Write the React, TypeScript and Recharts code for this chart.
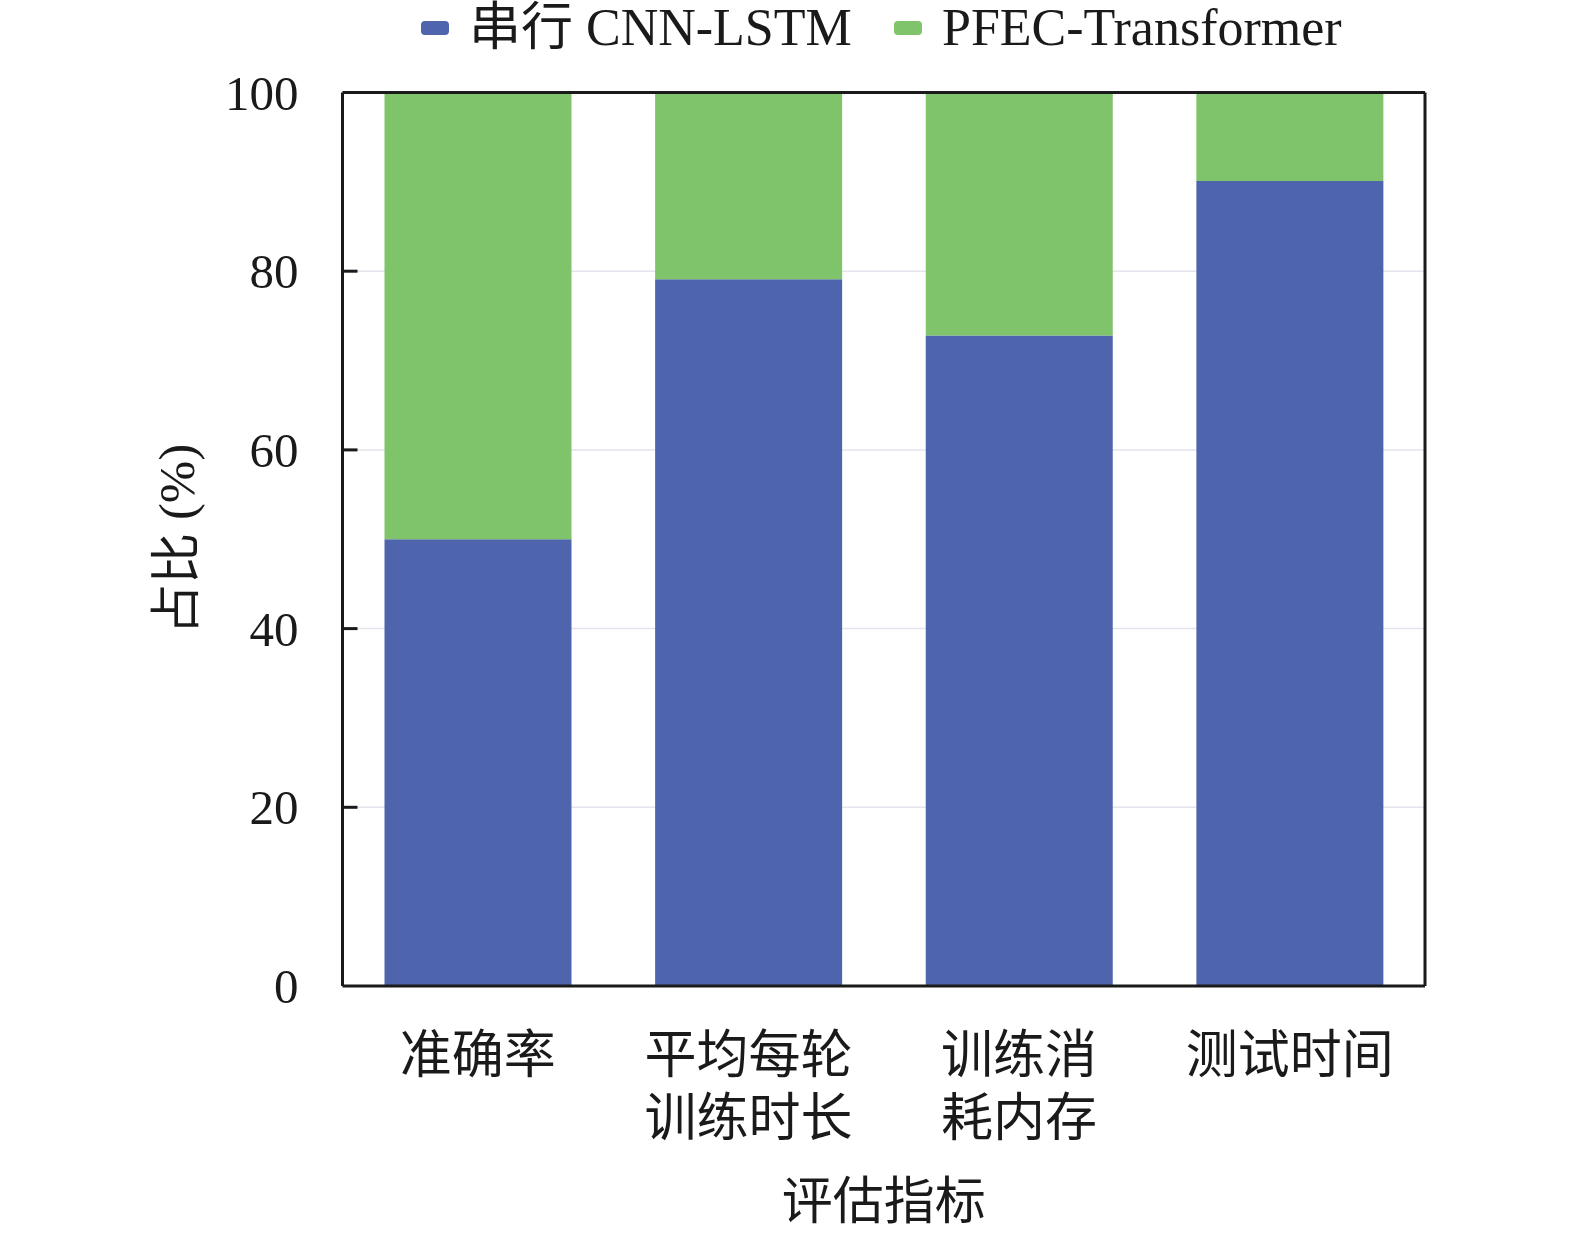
import { BarChart, Bar, XAxis, YAxis, CartesianGrid } from 'recharts';

const categories = ['准确率', '平均每轮\n训练时长', '训练消\n耗内存', '测试时间'];
const cnnLstm = [50.0, 79.1, 72.8, 90.1];
const pfecTransformer = [50.0, 20.9, 27.2, 9.9];
const yTicks = [0, 20, 40, 60, 80, 100];

const seriesNames = ['串行 CNN-LSTM', 'PFEC-Transformer'];
const COLORS = ['#4e65ae', '#7fc36b'];

const data = categories.map((name, i) => ({
  name,
  cnn: cnnLstm[i],
  pfec: pfecTransformer[i],
}));

const FONT = "'Liberation Serif', 'Times New Roman', 'Noto Sans CJK SC', serif";

// ticks drawn pointing into the plot, labels outside
const YTick = ({ x, y, payload }: any) => (
  <g>
    {payload.value > 0 && payload.value < 100 && (
      <line x1={x} y1={y} x2={x + 15} y2={y} stroke="#1a1a1a" strokeWidth={3} />
    )}
    <text x={x - 44} y={y} dy={17} textAnchor="end" fontSize={49} fill="#1a1a1a" fontFamily={FONT}>
      {payload.value}
    </text>
  </g>
);

const XTick = ({ x, y, payload }: any) => {
  const lines = String(payload.value).split('\n');
  return (
    <text x={x} y={y} textAnchor="middle" fontSize={52} fill="#1a1a1a" fontFamily={FONT}>
      {lines.map((ln, i) => (
        <tspan key={i} x={x} dy={i === 0 ? 87 : 63}>{ln}</tspan>
      ))}
    </text>
  );
};

export default function App() {
  return (
    <div style={{ position: 'absolute', left: 0, top: 0, width: 1575, height: 1235, background: '#fff', fontFamily: FONT }}>
      {/* legend */}
      <div style={{ position: 'absolute', top: 0, left: 0, width: 1575, height: 60 }}>
        {seriesNames.map((s, i) => (
          <div key={s} style={{ position: 'absolute', left: i === 0 ? 421 : 894, top: 0, display: 'flex', alignItems: 'center', height: 56 }}>
            <div style={{ width: 28, height: 14, borderRadius: 4, background: COLORS[i], marginRight: 20 }} />
            <span style={{ fontSize: 52, color: '#1a1a1a', whiteSpace: 'nowrap', lineHeight: 1 }}>{s}</span>
          </div>
        ))}
      </div>

      <BarChart
        width={1575}
        height={1235}
        data={data}
        margin={{ top: 91.5, right: 149, bottom: 99, left: 242.5 }}
      >
        <CartesianGrid vertical={false} stroke="#e2e5ec" strokeWidth={1.5} />
        <XAxis
          dataKey="name"
          height={150}
          axisLine={{ stroke: '#1a1a1a', strokeWidth: 3 }}
          tickLine={false}
          tickSize={0}
          tickMargin={0}
          interval={0}
          tick={<XTick />}
          label={{ value: '评估指标', position: 'insideBottom', offset: -83, fontSize: 51, fill: '#1a1a1a', fontFamily: FONT }}
        />
        <XAxis
          xAxisId="top"
          dataKey="name"
          orientation="top"
          height={1}
          tick={false}
          tickLine={false}
          axisLine={{ stroke: '#1a1a1a', strokeWidth: 3 }}
        />
        <YAxis
          width={100}
          domain={[0, 100]}
          ticks={yTicks}
          interval={0}
          axisLine={{ stroke: '#1a1a1a', strokeWidth: 3 }}
          tickLine={false}
          tickSize={0}
          tickMargin={0}
          tick={<YTick />}
          label={{ value: '占比 (%)', angle: -90, position: 'insideLeft', offset: -67, fontSize: 51, fill: '#1a1a1a', fontFamily: FONT, style: { textAnchor: 'middle' } }}
        />
        <YAxis
          yAxisId="right"
          orientation="right"
          width={1}
          domain={[0, 100]}
          tick={false}
          tickLine={false}
          axisLine={{ stroke: '#1a1a1a', strokeWidth: 3 }}
        />
        <Bar dataKey="cnn" name={seriesNames[0]} stackId="a" fill={COLORS[0]} barSize={187} isAnimationActive={false} />
        <Bar dataKey="pfec" name={seriesNames[1]} stackId="a" fill={COLORS[1]} barSize={187} isAnimationActive={false} />
      </BarChart>
    </div>
  );
}
